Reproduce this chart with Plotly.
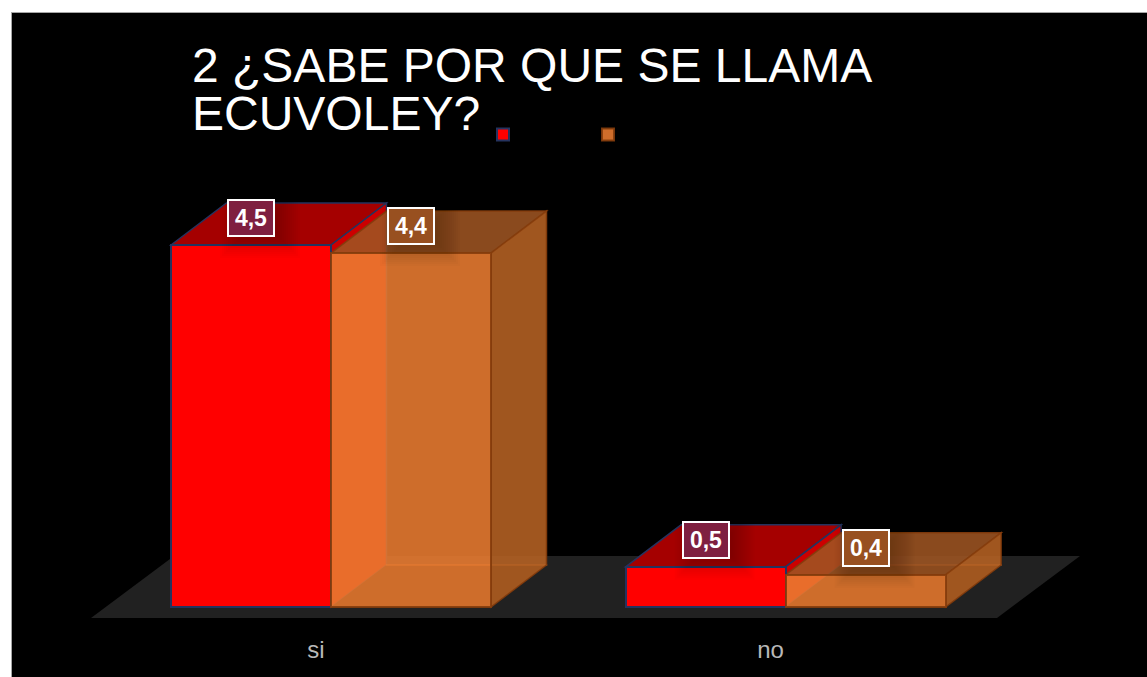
import plotly.graph_objects as go

categories = ["si", "no"]
series_names = ["\u00a0", "\u00a0\u00a0"]
series_a = [4.5, 0.5]
series_b = [4.4, 0.4]
title_lines = ["2 ¿SABE POR QUE SE LLAMA", "ECUVOLEY?"]

W, H = 1147, 677
BOTTOM = 42
PX_PER_X, PX_PER_Y = 454.6, 80.44
X_ZERO_PX, Y_ZERO_PX = 331.0, 607.0
PLOT_H = H - BOTTOM
x_range = [-X_ZERO_PX / PX_PER_X, (W - X_ZERO_PX) / PX_PER_X]
y_range = [(Y_ZERO_PX - PLOT_H) / PX_PER_Y, Y_ZERO_PX / PX_PER_Y]

BAR_W = 160 / PX_PER_X
DX, DY = 55.5 / PX_PER_X, 42 / PX_PER_Y
TICK_SHIFT = 15 / PX_PER_X

NAVY = "#25335f"
BROWN = "rgba(132,60,12,0.9)"
OR_FRONT = "rgba(237,125,49,0.87)"
OR_TOP = "rgba(159,85,34,0.87)"
OR_SIDE = "rgba(184,99,36,0.87)"


def poly(points, fill, line=None, width=1.5, layer="below"):
    path = "M" + " L".join(f"{x:.5f},{y:.5f}" for x, y in points) + " Z"
    return dict(type="path", path=path, xref="x", yref="y", layer=layer,
                fillcolor=fill, line=dict(color=line or "rgba(0,0,0,0)", width=width if line else 0))


shapes = []
# floor
f_y0 = -11 / PX_PER_Y
f_l, f_r = (91 - X_ZERO_PX) / PX_PER_X, (997 - X_ZERO_PX) / PX_PER_X
f_dx, f_dy = 83 / PX_PER_X, 62 / PX_PER_Y
shapes.append(poly([(f_l, f_y0), (f_r, f_y0), (f_r + f_dx, f_y0 + f_dy), (f_l + f_dx, f_y0 + f_dy)], "#212121"))

for i, (a, b) in enumerate(zip(series_a, series_b)):
    # series A box: top and right faces
    shapes.append(poly([(i - BAR_W, a), (i - BAR_W + DX, a + DY), (i + DX, a + DY), (i, a)], "#a50000", NAVY))
    shapes.append(poly([(i, a), (i + DX, a + DY), (i + DX, DY), (i, 0)], "#cc0000", NAVY))
for i, (a, b) in enumerate(zip(series_a, series_b)):
    # series B box: floor of the box, top and right faces
    shapes.append(poly([(i, 0), (i + BAR_W, 0), (i + BAR_W + DX, DY), (i + DX, DY)], "#000000"))
    shapes.append(poly([(i + DX, DY), (i + BAR_W + DX, DY), (i + BAR_W + DX, DY + 0.001), (i + DX, DY + 0.001)],
                       "rgba(0,0,0,0)", "rgba(237,125,49,0.6)"))
    shapes.append(poly([(i, b), (i + DX, b + DY), (i + BAR_W + DX, b + DY), (i + BAR_W, b)], OR_TOP, BROWN))
    shapes.append(poly([(i + BAR_W, b), (i + BAR_W + DX, b + DY), (i + BAR_W + DX, DY), (i + BAR_W, 0)], OR_SIDE, BROWN))

# soft drop shadows behind the value labels
for vals, off in ((series_a, -BAR_W / 2), (series_b, BAR_W / 2)):
    for i, v in enumerate(vals):
        cx = i + off + 9 / PX_PER_X
        cy = v + 22 / PX_PER_Y
        for grow in (16, 14, 12, 10, 8, 6, 4, 2, 0, -2, -4, -6):
            shapes.append(dict(type="rect", xref="x", yref="y", layer="above",
                               x0=cx - (24 + grow) / PX_PER_X, x1=cx + (24 + grow) / PX_PER_X,
                               y0=cy - (19 + grow) / PX_PER_Y, y1=cy + (19 + grow) / PX_PER_Y,
                               fillcolor="rgba(0,0,0,0.016)", line=dict(width=0)))

# page margin and thin border around the black chart area
ph = PLOT_H
shapes += [
    dict(type="rect", xref="paper", yref="paper", x0=0, x1=11 / W, y0=-BOTTOM / ph, y1=1, layer="above",
         fillcolor="white", line=dict(width=0)),
    dict(type="rect", xref="paper", yref="paper", x0=0, x1=1, y0=1 - 12 / ph, y1=1, layer="above",
         fillcolor="white", line=dict(width=0)),
    dict(type="line", xref="paper", yref="paper", x0=11.5 / W, x1=11.5 / W, y0=-BOTTOM / ph, y1=1 - 12 / ph,
         layer="above", line=dict(color="#a6a6a6", width=1)),
    dict(type="line", xref="paper", yref="paper", x0=11 / W, x1=1, y0=1 - 12.5 / ph, y1=1 - 12.5 / ph,
         layer="above", line=dict(color="#a6a6a6", width=1)),
]

xs = list(range(len(categories)))
fig = go.Figure()
fig.add_bar(x=xs, y=series_a, name=series_names[0], width=BAR_W, offset=-BAR_W,
            marker=dict(color="#ff0000", line=dict(color=NAVY, width=2)))
fig.add_bar(x=xs, y=series_b, name=series_names[1], width=BAR_W, offset=0,
            marker=dict(color=OR_FRONT, line=dict(color=BROWN, width=2)))

annotations = [dict(text=title_lines[1], xref="paper", yref="paper", x=190 / W, xanchor="left",
                    y=1 - 114 / ph, yanchor="middle", showarrow=False,
                    font=dict(family="Liberation Sans", size=48, color="white"))]
for vals, off, bg in ((series_a, -BAR_W / 2, "#7f2040"), (series_b, BAR_W / 2, "#985020")):
    for i, v in enumerate(vals):
        annotations.append(dict(x=i + off, y=v, xref="x", yref="y", yshift=27, showarrow=False,
                                text=f"<b>{v:.1f}</b>".replace(".", ","),
                                font=dict(family="Liberation Sans", size=23, color="white"),
                                bgcolor=bg, bordercolor="white", borderwidth=2, borderpad=3,
                                width=38, height=28))

fig.update_layout(
    width=W, height=H, autosize=False,
    margin=dict(l=0, r=0, t=0, b=BOTTOM, pad=0),
    paper_bgcolor="black", plot_bgcolor="black",
    barmode="overlay", bargap=0,
    title=dict(text=title_lines[0], x=192 / W, xanchor="left", xref="container",
               y=1 - 65 / H, yanchor="middle", yref="container",
               font=dict(family="Liberation Sans", size=48, color="white")),
    xaxis=dict(range=x_range, showgrid=False, zeroline=False, showline=False, ticks="",
               tickmode="array", tickvals=[x - TICK_SHIFT for x in xs], ticktext=categories,
               ticklabelstandoff=-2,
               tickfont=dict(family="Liberation Sans", size=24, color="#b8b8b8")),
    yaxis=dict(range=y_range, showgrid=False, zeroline=False, showline=False, ticks="", showticklabels=False),
    legend=dict(orientation="h", x=483 / W, xanchor="left", y=1 - 119 / ph, yanchor="top",
                bgcolor="rgba(0,0,0,0)", entrywidth=60, entrywidthmode="pixels", traceorder="normal",
                font=dict(color="black", size=14)),
    showlegend=True,
    shapes=shapes, annotations=annotations,
)
fig.write_html("out.html", config={"displayModeBar": False},
               post_script="document.body.style.margin='0';document.body.style.overflow='hidden';")
